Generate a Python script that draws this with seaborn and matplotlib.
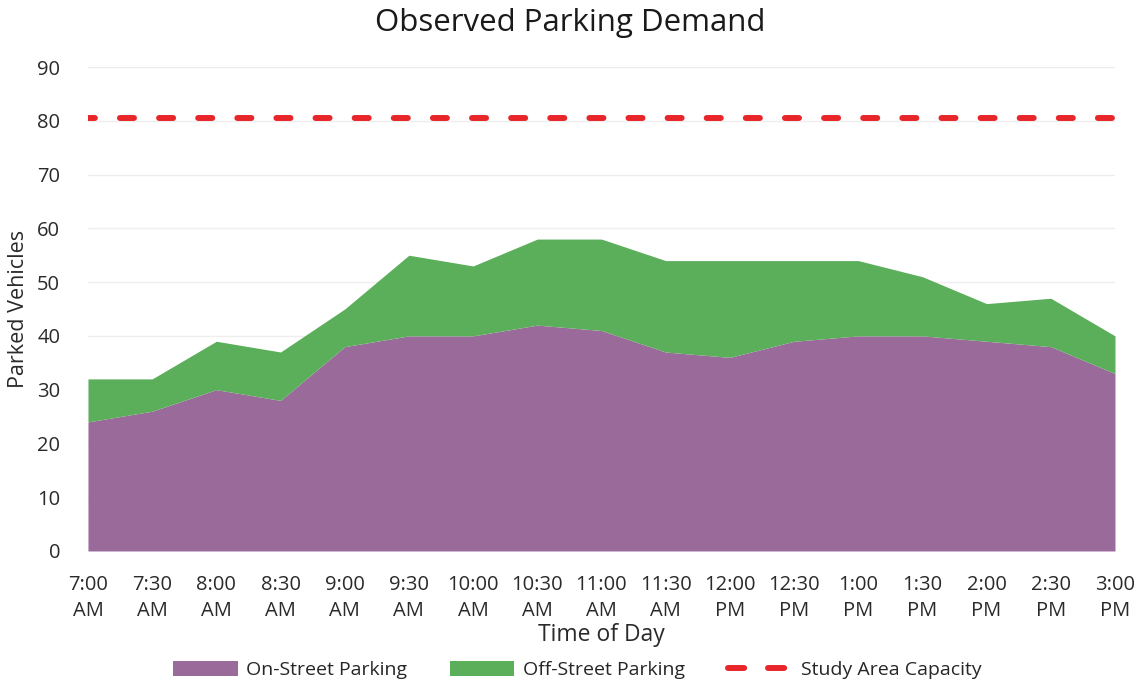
import matplotlib
matplotlib.use("Agg")
import matplotlib.pyplot as plt
import seaborn as sns
import numpy as np
import pandas as pd
from matplotlib.patches import Patch
from matplotlib.lines import Line2D

times = ["7:00\nAM", "7:30\nAM", "8:00\nAM", "8:30\nAM", "9:00\nAM", "9:30\nAM",
         "10:00\nAM", "10:30\nAM", "11:00\nAM", "11:30\nAM", "12:00\nPM", "12:30\nPM",
         "1:00\nPM", "1:30\nPM", "2:00\nPM", "2:30\nPM", "3:00\nPM"]
on_street = [24, 26, 30, 28, 38, 40, 40, 42, 41, 37, 36, 39, 40, 40, 39, 38, 33]
off_street = [8, 6, 9, 9, 7, 15, 13, 16, 17, 17, 18, 15, 14, 11, 7, 9, 7]
capacity = [80.6] * 17
yticks = [0, 10, 20, 30, 40, 50, 60, 70, 80, 90]

sns.set_theme(style="whitegrid")
plt.rcParams['font.family'] = ['Open Sans', 'DejaVu Sans']

purple = "#9a6a9b"
green = "#5bae5a"
red = "#e8262a"
text_c = "#2a2a2a"

df = pd.DataFrame({"x": np.arange(len(times)), "on": on_street,
                   "total": np.array(on_street) + np.array(off_street),
                   "cap": capacity})

fig = plt.figure(figsize=(11.41, 6.83), dpi=100)
ax = fig.add_axes([0.0771, 0.1933, 0.9001, 0.7086])

ax.fill_between(df["x"], 0, df["on"], color=purple, linewidth=0, zorder=2)
ax.fill_between(df["x"], df["on"], df["total"], color=green, linewidth=0, zorder=2)
sns.lineplot(data=df, x="x", y="cap", ax=ax, color=red, linewidth=4.3,
             linestyle=(1.2, (2.35, 4.2)), dash_capstyle="round", zorder=3,
             legend=False)

ax.set_xlim(0, len(times) - 1)
ax.set_ylim(0, 90)
ax.set_yticks(yticks)
ax.set_yticklabels([str(v) for v in yticks], fontsize=14.5, color=text_c)
ax.set_xticks(df["x"])
ax.set_xticklabels(times, fontsize=14.5, color=text_c, linespacing=1.45)
ax.tick_params(axis="x", pad=17, length=0)
ax.tick_params(axis="y", pad=20, length=0)
ax.grid(axis="y", color="#eeeeee", linewidth=1)
ax.grid(axis="x", visible=False)
for s in ax.spines.values():
    s.set_visible(False)

ax.set_xlabel("Time of Day", fontsize=16.5, color=text_c, labelpad=1)
ax.set_ylabel("Parked Vehicles", fontsize=15.5, color=text_c, labelpad=6)
fig.text(0.500, 0.966, "Observed Parking Demand", ha="center", va="center",
         fontsize=22.5, color="#1a1a1a")

handles = [Patch(facecolor=purple, edgecolor="none"),
           Patch(facecolor=green, edgecolor="none"),
           Line2D([0], [0], color=red, linewidth=4.3, linestyle=(0, (2.7, 4.0)),
                  dash_capstyle="round")]
labels = ["On-Street Parking", "Off-Street Parking", "Study Area Capacity"]
fig.legend(handles, labels, loc="center", bbox_to_anchor=(0.506, 0.019), ncol=3,
           frameon=False, fontsize=14, handlelength=3.3, handleheight=0.85,
           columnspacing=2.2, handletextpad=0.45)

fig.savefig("out.png", dpi=100)
